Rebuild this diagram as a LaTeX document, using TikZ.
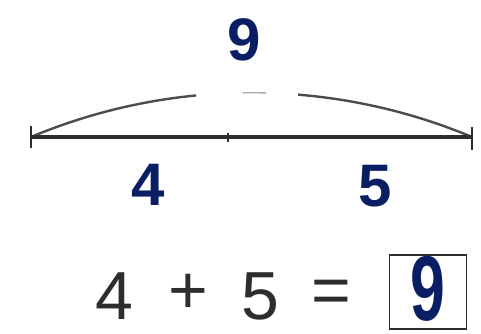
\documentclass[tikz,border=0pt]{standalone}
\usepackage{fontspec}
\setmainfont{Liberation Sans}
\definecolor{navy}{RGB}{10,30,100}
\definecolor{ink}{RGB}{45,45,45}
\begin{document}
\begin{tikzpicture}[x=1pt,y=-1pt,
  bignum/.style={text=navy,font=\bfseries\fontsize{60}{60}\selectfont,inner sep=0pt},
  eqtext/.style={text=ink,font=\fontsize{68}{68}\selectfont,inner sep=0pt},
  seg/.style={draw=ink,line width=3.4pt},
  tickmark/.style={draw=ink,line width=2.2pt},
  arcline/.style={draw=ink!85,line width=2.4pt}]
\useasboundingbox (0,0) rectangle (481,334);
\coordinate (L) at (31,137);
\coordinate (M) at (228,137);
\coordinate (R) at (472,137);
% total label
\node[bignum] (total) at (244,40) {9};
% arc over whole segment, with a gap
\begin{scope}
  \clip (0,0) rectangle (196,160);
  \draw[arcline] (L) .. controls (172,78) and (331,78) .. (R);
\end{scope}
\begin{scope}
  \clip (243,0) rectangle (266,160);
  \draw[arcline,draw=ink!40,line width=1.4pt] (L) .. controls (172,78) and (331,78) .. (R);
\end{scope}
\begin{scope}
  \clip (298,0) rectangle (481,160);
  \draw[arcline] (L) .. controls (172,78) and (331,78) .. (R);
\end{scope}
% baseline
\draw[seg] (L) -- (M) -- (R);
\draw[tickmark] ([yshift=-11pt]L) -- ([yshift=11pt]L);
\draw[tickmark] ([yshift=-13pt]R) -- ([yshift=10pt]R);
\draw[tickmark,line width=1.6pt] ([yshift=-5pt]M) -- ([yshift=4pt]M);
% part labels
\node[bignum] (a) at (148,185) {4};
\node[bignum] (b) at (375,186) {5};
% equation
\node[eqtext,anchor=base] (e4) at (114,319) {4};
\node[eqtext,anchor=base] (plus) at (188,313) {+};
\node[eqtext,anchor=base] (e5) at (260,319) {5};
\node[eqtext,anchor=base] (eq) at (331,313) {=};
\node[draw=ink,line width=1.6pt,minimum width=77pt,minimum height=74pt,inner sep=0pt] (box) at (428,292) {};
\node[text=navy,inner sep=0pt] (ans) at ([yshift=3pt]box.center) {\scalebox{0.68}[1]{\bfseries\fontsize{92}{92}\selectfont 9}};
\end{tikzpicture}
\end{document}
